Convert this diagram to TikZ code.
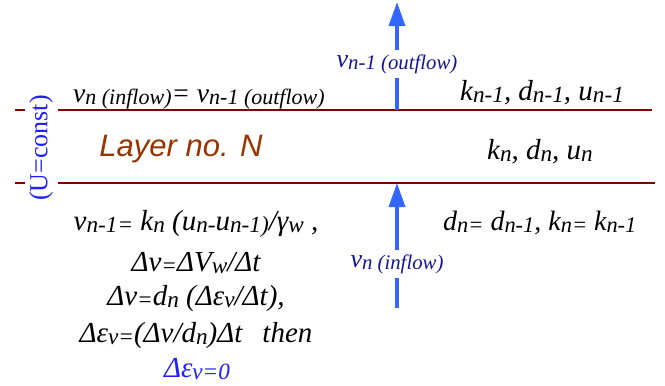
\documentclass[tikz,border=0pt]{standalone}
\usepackage{fontspec}
\setmainfont{Liberation Serif}
\setsansfont{Liberation Sans}
\usetikzlibrary{arrows.meta}
\definecolor{layerline}{RGB}{128,0,0}
\definecolor{layertext}{RGB}{153,51,0}
\definecolor{flowblue}{RGB}{51,102,255}
\definecolor{flowlabel}{RGB}{20,20,150}
\definecolor{ublue}{RGB}{30,30,255}
\newcommand\lw[1]{\raisebox{-0.08em}{\scalebox{0.8}{#1}}}
\newcommand\fs[1]{\fontsize{#1}{#1}\selectfont}

\begin{document}
\begin{tikzpicture}[x=1pt,y=-1pt,line join=round,
  bound/.style={layerline,line width=2.8pt},
  flow/.style={flowblue,line width=3.5pt},
  flowtip/.style={-{Triangle[width=16pt,length=24pt]}},
  txt/.style={inner sep=0pt,font=\fs{27.5}\itshape},
  eq/.style={anchor=base,inner sep=0pt,font=\fs{29}\itshape},
  lbl/.style={flowlabel,inner xsep=2pt,inner ysep=4pt,anchor=base,font=\fs{26}\itshape}]
  \useasboundingbox (0,0) rectangle (665,386);
  % layer boundaries
  \coordinate (TL) at (58,110);
  \coordinate (TR) at (652,110);
  \coordinate (BL) at (58,183);
  \coordinate (BR) at (655,183);
  \draw[bound] (TL) -- (TR);
  \draw[bound] (BL) -- (BR);
  \draw[bound] (15,110) -- (25,110);
  \draw[bound] (15,183) -- (25,183);
  \node[ublue,rotate=90,inner sep=0pt,font=\fs{26}] (ucst) at (41,148) {(U=const)};
  \node[layertext,anchor=base,inner sep=0pt,font=\fs{31}\sffamily\itshape] (layer) at (181,156) {Layer no. N};
  % texts above and inside the layer
  \node[txt,anchor=base west] (inflowEq) at (73,102) {v\lw{n (inflow)}= v\lw{n-1 (outflow)}};
  \node[txt,anchor=base west,font=\fs{29}\itshape] (kUp) at (460,100) {k\lw{n-1}, d\lw{n-1}, u\lw{n-1}};
  \node[txt,anchor=base,font=\fs{29}\itshape] (kMid) at (540,159) {k\lw{n}, d\lw{n}, u\lw{n}};
  \node[txt,anchor=base west,font=\fs{28}\itshape] (dkEq) at (443,230) {d\lw{n=} d\lw{n-1}, k\lw{n=} k\lw{n-1}};
  % flow arrows
  \node[lbl] (outLbl) at (397,67) {v\lw{n-1 (outflow)}};
  \node[lbl] (inLbl) at (397,267) {v\lw{n (inflow)}};
  \coordinate (outBase) at (397,110);
  \coordinate (outTip) at (397,2);
  \coordinate (inBase) at (397,308);
  \coordinate (inTip) at (397,183);
  \draw[flow] (outBase) -- (outLbl.south);
  \draw[flow,flowtip] (outLbl.north) -- (outTip);
  \draw[flow] (inBase) -- (inLbl.south);
  \draw[flow,flowtip] (inLbl.north) -- (inTip);
  % equations below the layer
  \node[eq] (eqA) at (196,230) {v\lw{n-1=} k\lw{n} (u\lw{n-}u\lw{n-1)}/γ\lw{w} ,};
  \node[eq] (eqB) at (196,271) {Δv\lw{=}ΔV\lw{w}/Δt};
  \node[eq] (eqC) at (196,305) {Δv\lw{=}d\lw{n} (Δε\lw{v}/Δt),};
  \node[eq] (eqD) at (196,342) {Δε\lw{v=}(Δv/d\lw{n})Δt\hspace{20pt}then};
  \node[eq,ublue] (eqE) at (197,377) {Δε\lw{v=0}};
\end{tikzpicture}
\end{document}
